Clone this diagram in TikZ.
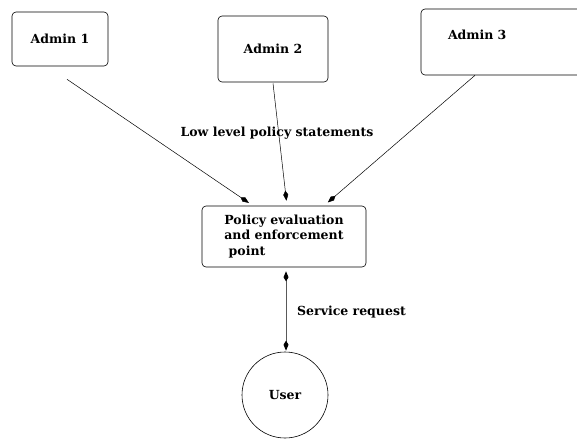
\documentclass[tikz,border=0pt]{standalone}
\usepackage{fontspec}
\setmainfont{DejaVu Serif}
\usetikzlibrary{arrows.meta}
\begin{document}
\begin{tikzpicture}[x=1pt,y=-1pt,
  every node/.style={font=\fontsize{12.5}{15.5}\selectfont\bfseries},
  box/.style={draw, rounded corners=4pt, line width=0.6pt, inner sep=0pt},
  conn/.style={line width=0.5pt, -{Kite[length=10pt,width=5pt,inset=4pt]}},
  biconn/.style={line width=0.9pt, draw=black!65, {Kite[length=10pt,width=5pt,inset=4pt,color=black]}-{Kite[length=10pt,width=5pt,inset=4pt,color=black]}},
  lbl/.style={inner sep=0pt}]
\useasboundingbox (0,0) rectangle (577,439);
\begin{scope}
\clip (0,0) rectangle (577,439);
\node[box, minimum width=96pt, minimum height=54pt] (a1) at (60,39) {Admin 1};
\node[box, minimum width=110pt, minimum height=66pt] (a2) at (273,49) {Admin 2};
\node[box, minimum width=164pt, minimum height=66pt, text width=110pt, align=left, text depth=14pt] (a3) at (503,42) {Admin 3};
\end{scope}
\node[box, minimum width=164pt, minimum height=61pt, align=left] (pe) at (284,236.5) {Policy evaluation\\and enforcement\\\ point};
\node[draw, circle, line width=0.6pt, minimum size=86pt, inner sep=0pt] (u) at (285,395) {User};
\draw[conn, shorten >=5pt] ([xshift=7pt,yshift=-13pt]a1.south) -- ([xshift=-31pt]pe.north);
\draw[conn, shorten >=5pt] ([yshift=-1pt]a2.south) -- ([xshift=3pt]pe.north);
\draw[conn, shorten >=5pt] ([xshift=-28pt]a3.south) -- ([xshift=40pt]pe.north);
\draw[biconn, shorten <=4pt, shorten >=1pt] ([xshift=2pt]pe.south) -- ([xshift=1pt]u.north);
\node[lbl] (l1) at (277,133) {Low level policy statements};
\node[lbl, anchor=west] (l2) at (297,312) {Service request};
\end{tikzpicture}
\end{document}
